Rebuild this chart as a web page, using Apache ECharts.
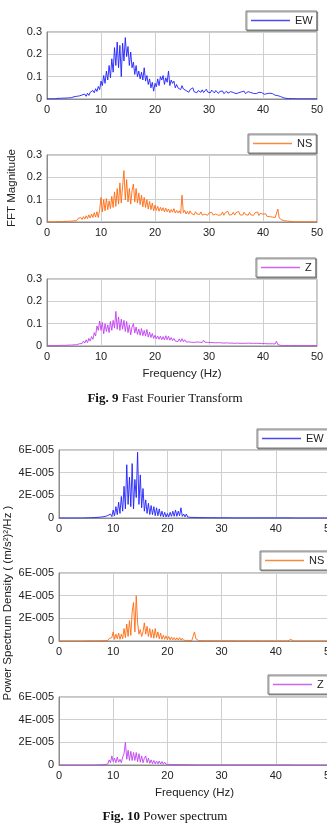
<!DOCTYPE html>
<html>
<head>
<meta charset="utf-8">
<script src="https://cdn.jsdelivr.net/npm/echarts@6/dist/echarts.min.js"></script>
<style>
  html, body { margin: 0; padding: 0; background: #fff; overflow: hidden; }
  #chart { width: 340px; height: 824px; }
</style>
</head>
<body>
<div id="chart"></div>
<script>
// spectra sampled every 0.25 Hz from 0 to 50 Hz (201 points each)
const FREQ_STEP = 0.25;

const fftEW = [
  0.001,0.002,0.001,0.002,0.001,0.003,0.001,0.002,0.003,0.001,0.003,0.002,0.004,0.002,0.004,0.003,
  0.005,0.003,0.006,0.004,0.010,0.005,0.012,0.007,
  0.014,0.008,0.018,0.010,0.022,0.012,0.026,0.016,
  0.030,0.022,0.038,0.028,0.046,0.034,0.056,0.042,
  0.080,0.060,0.105,0.070,0.125,0.085,0.150,0.095,
  0.180,0.120,0.230,0.150,0.255,0.140,0.240,0.100,
  0.250,0.170,0.275,0.190,0.235,0.150,0.210,0.140,
  0.165,0.110,0.150,0.100,0.125,0.090,0.120,0.085,
  0.140,0.080,0.105,0.065,0.090,0.050,0.075,0.035,
  0.070,0.055,0.090,0.060,0.100,0.085,0.105,0.065,
  0.095,0.075,0.125,0.060,0.085,0.070,0.080,0.050,
  0.065,0.050,0.058,0.042,0.060,0.045,0.052,0.038,
  0.046,0.030,0.042,0.035,0.050,0.032,0.040,0.028,
  0.038,0.033,0.030,0.041,0.029,0.036,0.044,0.031,
  0.037,0.028,0.040,0.034,0.027,0.038,0.033,0.025,
  0.034,0.029,0.036,0.024,0.031,0.035,0.026,0.030,
  0.033,0.025,0.029,0.034,0.024,0.031,0.028,0.023,
  0.032,0.027,0.035,0.024,0.030,0.033,0.026,0.029,
  0.031,0.025,0.033,0.024,0.028,0.030,0.022,0.029,
  0.027,0.021,0.029,0.024,0.020,0.026,0.019,0.024,
  0.022,0.017,0.025,0.015,0.019,0.011,0.008,0.006,
  0.006,0.003,0.005,0.002,0.004,0.002,0.003,0.001,
  0.002,0.001,0.002,0.001,0.002,0.001,0.001,0.001,
  0.001,0.001,0.001,0.001,0.001,0.001,0.001,0.001,0.001
];

const fftNS = [
  0.001,0.002,0.001,0.002,0.001,0.002,0.001,0.003,0.002,0.003,0.002,0.003,0.002,0.004,0.003,0.005,
  0.003,0.006,0.004,0.008,0.005,0.012,0.006,0.016,
  0.009,0.020,0.011,0.024,0.013,0.028,0.015,0.032,
  0.018,0.036,0.020,0.042,0.022,0.046,0.020,0.055,
  0.110,0.045,0.100,0.050,0.105,0.055,0.095,0.060,
  0.115,0.065,0.135,0.070,0.150,0.080,0.175,0.085,
  0.160,0.230,0.100,0.190,0.090,0.150,0.080,0.140,
  0.170,0.090,0.150,0.085,0.130,0.078,0.120,0.068,
  0.110,0.065,0.100,0.058,0.092,0.055,0.085,0.050,
  0.075,0.052,0.070,0.048,0.066,0.050,0.064,0.045,
  0.062,0.046,0.058,0.042,0.056,0.044,0.060,0.040,
  0.052,0.040,0.050,0.038,0.120,0.042,0.052,0.036,
  0.048,0.035,0.050,0.038,0.042,0.032,0.046,0.036,
  0.040,0.034,0.045,0.031,0.039,0.035,0.042,0.030,
  0.040,0.033,0.044,0.031,0.038,0.036,0.042,0.030,
  0.036,0.032,0.045,0.030,0.041,0.034,0.048,0.031,
  0.039,0.033,0.044,0.031,0.042,0.035,0.047,0.032,
  0.040,0.031,0.044,0.034,0.038,0.030,0.043,0.032,
  0.038,0.030,0.041,0.033,0.045,0.029,0.039,0.031,
  0.035,0.027,0.037,0.025,0.033,0.024,0.030,0.022,
  0.028,0.020,0.026,0.058,0.018,0.010,0.009,0.004,
  0.006,0.002,0.004,0.002,0.003,0.001,0.002,0.001,
  0.001,0.001,0.001,0.001,0.001,0.001,0.001,0.001,
  0.001,0.001,0.001,0.001,0.001,0.001,0.001,0.001,0.001
];

const fftZ = [
  0.002,0.003,0.002,0.003,0.002,0.003,0.002,0.004,0.002,0.004,0.003,0.004,0.003,0.005,0.003,0.006,
  0.004,0.007,0.004,0.008,0.005,0.010,0.006,0.014,
  0.010,0.018,0.011,0.022,0.013,0.028,0.015,0.034,
  0.022,0.042,0.030,0.060,0.045,0.090,0.070,0.112,
  0.070,0.105,0.055,0.100,0.065,0.095,0.060,0.110,
  0.070,0.115,0.080,0.155,0.075,0.130,0.070,0.120,
  0.075,0.115,0.065,0.110,0.060,0.095,0.050,0.085,
  0.100,0.058,0.085,0.052,0.076,0.048,0.078,0.046,
  0.070,0.044,0.074,0.040,0.062,0.038,0.056,0.034,
  0.048,0.032,0.045,0.030,0.044,0.028,0.042,0.027,
  0.046,0.028,0.044,0.026,0.038,0.024,0.034,0.022,
  0.030,0.020,0.032,0.019,0.033,0.019,0.028,0.018,
  0.026,0.018,0.024,0.017,0.025,0.016,0.023,0.018,
  0.024,0.017,0.023,0.016,0.026,0.017,0.022,0.016,
  0.022,0.016,0.021,0.015,0.022,0.014,0.020,0.015,
  0.020,0.014,0.020,0.013,0.019,0.014,0.020,0.013,
  0.019,0.013,0.018,0.012,0.019,0.013,0.017,0.012,
  0.018,0.012,0.017,0.012,0.018,0.013,0.016,0.012,
  0.017,0.012,0.018,0.012,0.016,0.012,0.017,0.011,
  0.016,0.011,0.015,0.010,0.016,0.010,0.014,0.010,
  0.015,0.009,0.021,0.006,0.006,0.003,0.005,0.002,
  0.004,0.002,0.003,0.002,0.003,0.002,0.002,0.002,
  0.002,0.002,0.002,0.002,0.002,0.002,0.002,0.002,
  0.002,0.002,0.002,0.002,0.002,0.002,0.002,0.002,0.002
];

// power spectral density, (m/s²)²/Hz
const psdEW = [
  0,0,0,0,0,0,0,0,0,0,0,0,0,0,0,0,
  0,0,0,0,0.1e-6,0,0.2e-6,0.1e-6,
  0.3e-6,0.1e-6,0.4e-6,0.1e-6,0.5e-6,0.2e-6,0.7e-6,0.3e-6,
  1e-6,0.4e-6,1.4e-6,0.5e-6,2.2e-6,0.8e-6,3.5e-6,1.2e-6,
  7e-6,2e-6,10e-6,3e-6,14e-6,4e-6,19e-6,6e-6,
  28e-6,8e-6,47e-6,12e-6,36e-6,10e-6,48e-6,8e-6,
  34e-6,18e-6,58e-6,12e-6,38e-6,9e-6,26e-6,6e-6,
  16e-6,4e-6,13e-6,3e-6,11e-6,3e-6,10e-6,2e-6,
  9e-6,2e-6,8e-6,1.5e-6,6e-6,1e-6,5e-6,1e-6,
  4e-6,1e-6,5e-6,1.5e-6,6e-6,1.5e-6,7e-6,1.5e-6,
  6e-6,2e-6,9e-6,1.5e-6,3.5e-6,1e-6,3.5e-6,0.8e-6,
  2.5e-6,0.6e-6,2.2e-6,0.5e-6,2e-6,0.5e-6,1.8e-6,0.4e-6,
  1.5e-6,0.4e-6,1.7e-6,0.3e-6,1.3e-6,0.3e-6,1.4e-6,0.3e-6,
  1.2e-6,0.2e-6,1.1e-6,0.3e-6,1e-6,0.2e-6,1.2e-6,0.2e-6,
  1e-6,0.2e-6,1.1e-6,0.2e-6,0.9e-6,0.2e-6,1e-6,0.1e-6,
  0.9e-6,0.1e-6,0.8e-6,0.1e-6,0.9e-6,0.1e-6,0.7e-6,0.1e-6,
  0.8e-6,0.1e-6,0.7e-6,0.1e-6,0.8e-6,0.1e-6,0.7e-6,0.1e-6,
  0.7e-6,0.1e-6,0.8e-6,0.1e-6,0.7e-6,0.1e-6,0.7e-6,0.1e-6,
  0.6e-6,0.1e-6,0.6e-6,0.1e-6,0.7e-6,0.1e-6,0.6e-6,0.1e-6,
  0.5e-6,0.1e-6,0.5e-6,0.1e-6,0.4e-6,0.1e-6,0.4e-6,0.1e-6,
  0.4e-6,0.1e-6,0.4e-6,0.1e-6,0.2e-6,0,0.1e-6,0,
  0,0,0,0,0,0,0,0,
  0,0,0,0,0,0,0,0,
  0,0,0,0,0,0,0,0,0
];

const psdNS = [
  0,0,0,0,0,0,0,0,0,0,0,0,0,0,0,0,
  0,0,0,0,0.1e-6,0,0.2e-6,0.1e-6,
  0.2e-6,0.4e-6,0.1e-6,0.5e-6,0.2e-6,0.7e-6,0.2e-6,1e-6,
  0.3e-6,1.2e-6,0.3e-6,1.8e-6,0.4e-6,2.2e-6,0.5e-6,3e-6,
  8e-6,1.5e-6,6e-6,2e-6,7e-6,1.5e-6,6e-6,2e-6,
  11e-6,3e-6,15e-6,4e-6,18e-6,5e-6,26e-6,34e-6,
  8e-6,40e-6,16e-6,6e-6,10e-6,4e-6,8e-6,16e-6,
  6e-6,13e-6,4e-6,11e-6,3e-6,10e-6,2.5e-6,11e-6,
  3e-6,8e-6,2e-6,7e-6,1.5e-6,5e-6,1.5e-6,4.5e-6,
  1.2e-6,4e-6,1e-6,3.5e-6,1e-6,3e-6,0.8e-6,2.8e-6,
  0.8e-6,3e-6,0.6e-6,2.4e-6,0.6e-6,2.2e-6,0.5e-6,2e-6,
  0.5e-6,1.8e-6,0.4e-6,1.5e-6,8e-6,2e-6,1.2e-6,0.4e-6,
  1.2e-6,0.3e-6,1.3e-6,0.3e-6,1.1e-6,0.2e-6,1.2e-6,0.3e-6,
  1.1e-6,0.2e-6,1.2e-6,0.2e-6,1e-6,0.2e-6,1.1e-6,0.2e-6,
  1e-6,0.2e-6,1.1e-6,0.2e-6,1e-6,0.2e-6,1.1e-6,0.2e-6,
  0.9e-6,0.2e-6,1.1e-6,0.2e-6,1e-6,0.1e-6,1.2e-6,0.2e-6,
  1e-6,0.2e-6,1.1e-6,0.2e-6,0.9e-6,0.1e-6,1.1e-6,0.2e-6,
  0.9e-6,0.1e-6,1e-6,0.2e-6,0.9e-6,0.1e-6,1e-6,0.1e-6,
  0.9e-6,0.1e-6,1e-6,0.1e-6,1.1e-6,0.1e-6,0.9e-6,0.1e-6,
  0.8e-6,0.1e-6,0.8e-6,0.1e-6,0.7e-6,0.1e-6,0.6e-6,0.1e-6,
  0.5e-6,0.1e-6,0.5e-6,1.5e-6,0.2e-6,0.1e-6,0.1e-6,0,
  0,0,0,0,0,0,0,0,
  0,0,0,0,0,0,0,0,
  0,0,0,0,0,0,0,0,0
];

const psdZ = [
  0,0,0,0,0,0,0,0,0,0,0,0,0,0,0,0,
  0,0,0,0,0,0,0,0,
  0,0,0,0,0.1e-6,0,0.2e-6,0.1e-6,
  0.3e-6,0.8e-6,0.4e-6,1.8e-6,0.8e-6,4.5e-6,2e-6,8e-6,
  3e-6,6e-6,2e-6,7e-6,2.5e-6,5e-6,2e-6,7e-6,
  10e-6,20e-6,5e-6,13e-6,4e-6,12e-6,4e-6,11e-6,
  4e-6,11e-6,3e-6,10e-6,2.5e-6,8e-6,2e-6,6e-6,
  8e-6,2e-6,6e-6,1.5e-6,4.5e-6,1.2e-6,4e-6,1e-6,
  3.5e-6,1e-6,3.5e-6,0.8e-6,3e-6,0.7e-6,2.5e-6,0.6e-6,
  2e-6,0.5e-6,1.6e-6,0.5e-6,1.5e-6,0.4e-6,1.4e-6,0.4e-6,
  1.6e-6,0.4e-6,1.4e-6,0.3e-6,1.1e-6,0.3e-6,1e-6,0.3e-6,
  0.8e-6,0.2e-6,0.7e-6,0.2e-6,0.6e-6,0.1e-6,0.5e-6,0.1e-6,
  0.4e-6,0.1e-6,0.4e-6,0.1e-6,0.3e-6,0.1e-6,0.3e-6,0.1e-6,
  0.3e-6,0.1e-6,0.3e-6,0.1e-6,0.3e-6,0.1e-6,0.2e-6,0.1e-6,
  0.3e-6,0.1e-6,0.2e-6,0.1e-6,0.2e-6,0.1e-6,0.2e-6,0.1e-6,
  0.2e-6,0.1e-6,0.2e-6,0.1e-6,0.2e-6,0.1e-6,0.2e-6,0.1e-6,
  0.2e-6,0.1e-6,0.2e-6,0.1e-6,0.2e-6,0.1e-6,0.2e-6,0.1e-6,
  0.2e-6,0.1e-6,0.2e-6,0.1e-6,0.2e-6,0.1e-6,0.2e-6,0.1e-6,
  0.2e-6,0.1e-6,0.2e-6,0.1e-6,0.2e-6,0.1e-6,0.2e-6,0.1e-6,
  0.2e-6,0.1e-6,0.2e-6,0.1e-6,0.2e-6,0.1e-6,0.1e-6,0.1e-6,
  0.1e-6,0.1e-6,0.3e-6,0.1e-6,0.1e-6,0,0,0,
  0,0,0,0,0,0,0,0,
  0,0,0,0,0,0,0,0,
  0,0,0,0,0,0,0,0,0
];

const freqTickLabels = ['0', '10', '20', '30', '40', '50'];
const fftTickLabels = ['0', '0.1', '0.2', '0.3'];
const psdTickLabels = ['0', '2E-005', '4E-005', '6E-005'];

const colors = { EW: '#1f1fff', NS: '#ff6a10', Z: '#c040f0' };
const legendColors = { EW: '#4a4af0', NS: '#f58a40', Z: '#cc66f0' };
const FONT = '"Liberation Sans", Arial, sans-serif';

// layout of the six panels
const panels = [
  { name: 'EW', data: fftEW, kind: 'fft', grid: [47, 32, 270, 67], legend: [246, 11] },
  { name: 'NS', data: fftNS, kind: 'fft', grid: [47, 155, 270, 67], legend: [248, 134] },
  { name: 'Z',  data: fftZ,  kind: 'fft', grid: [47, 279, 270, 67], legend: [256, 258], xName: true },
  { name: 'EW', data: psdEW, kind: 'psd', grid: [59, 450, 271, 68], legend: [257, 429] },
  { name: 'NS', data: psdNS, kind: 'psd', grid: [59, 573, 271, 68], legend: [260, 551] },
  { name: 'Z',  data: psdZ,  kind: 'psd', grid: [59, 697, 271, 68], legend: [268, 675], xName: true }
];

const chart = echarts.init(document.getElementById('chart'), null, { renderer: 'canvas' });

const option = {
  animation: false,
  backgroundColor: '#fff',
  textStyle: { fontFamily: FONT },
  grid: panels.map(p => ({
    left: p.grid[0], top: p.grid[1], width: p.grid[2], height: p.grid[3],
    show: true, borderColor: '#8c8c8c', borderWidth: 1, backgroundColor: '#fff'
  })),
  xAxis: panels.map((p, i) => ({
    type: 'value', gridIndex: i, min: 0, max: 50, interval: 10,
    name: p.xName ? 'Frequency (Hz)' : '',
    nameLocation: 'middle', nameGap: 22,
    nameTextStyle: { fontSize: 11.5, color: '#222', fontFamily: FONT },
    axisLine: { show: true, lineStyle: { color: '#8c8c8c' } },
    axisTick: { show: false },
    splitLine: { show: true, lineStyle: { color: '#cfcfcf', width: 1 } },
    axisLabel: {
      margin: 5, fontSize: 11, color: '#222', fontFamily: FONT,
      formatter: (v, idx) => freqTickLabels[idx]
    }
  })),
  yAxis: panels.map((p, i) => ({
    type: 'value', gridIndex: i, min: 0,
    max: p.kind === 'fft' ? 0.3 : 6e-5,
    interval: p.kind === 'fft' ? 0.1 : 2e-5,
    axisLine: { show: true, lineStyle: { color: '#8c8c8c' } },
    axisTick: { show: false },
    splitLine: { show: true, lineStyle: { color: '#cfcfcf', width: 1 } },
    axisLabel: {
      margin: 5, fontSize: 11, color: '#222', fontFamily: FONT,
      formatter: (v, idx) => (p.kind === 'fft' ? fftTickLabels : psdTickLabels)[idx]
    }
  })),
  legend: panels.map(p => ({
    left: p.legend[0], top: p.legend[1],
    data: [{ name: p.name, icon: 'rect', itemStyle: { color: legendColors[p.name] } }],
    orient: 'horizontal',
    padding: [3, 4, 3, 5],
    itemWidth: 39, itemHeight: 1.5,
    backgroundColor: '#fff',
    borderColor: '#7a7a7a', borderWidth: 1, borderRadius: 0,
    shadowColor: 'rgba(0,0,0,0.35)', shadowOffsetX: 1, shadowOffsetY: 1, shadowBlur: 0,
    selectedMode: false,
    textStyle: { fontSize: 11, lineHeight: 13, color: '#222', fontFamily: FONT }
  })),
  series: panels.map((p, i) => ({
    name: p.name,
    type: 'line',
    xAxisIndex: i, yAxisIndex: i,
    symbol: 'none',
    color: colors[p.name],
    lineStyle: { width: 0.9, color: colors[p.name] },
    data: p.data.map((v, k) => [k * FREQ_STEP, v])
  })),
  graphic: [
    {
      type: 'text', x: 12, y: 188, rotation: Math.PI / 2,
      style: { text: 'FFT Magnitude', font: '11.5px ' + FONT, fill: '#222', align: 'center', verticalAlign: 'middle' }
    },
    {
      type: 'text', x: 8, y: 603, rotation: Math.PI / 2,
      style: { text: 'Power Spectrum Density ( (m/s²)²/Hz )', font: '11.5px ' + FONT, fill: '#222', align: 'center', verticalAlign: 'middle' }
    },
    {
      type: 'text', x: 165, y: 399,
      style: {
        text: '{b|Fig. 9} Fast Fourier Transform',
        align: 'center', verticalAlign: 'middle',
        font: '13px "Liberation Serif", "Times New Roman", serif', fill: '#111',
        rich: { b: { fontWeight: 'bold', fontSize: 13, fontFamily: '"Liberation Serif", serif', fill: '#111' } }
      }
    },
    {
      type: 'text', x: 165, y: 817,
      style: {
        text: '{b|Fig. 10} Power spectrum',
        align: 'center', verticalAlign: 'middle',
        font: '13px "Liberation Serif", "Times New Roman", serif', fill: '#111',
        rich: { b: { fontWeight: 'bold', fontSize: 13, fontFamily: '"Liberation Serif", serif', fill: '#111' } }
      }
    }
  ]
};

chart.setOption(option);
</script>
</body>
</html>
